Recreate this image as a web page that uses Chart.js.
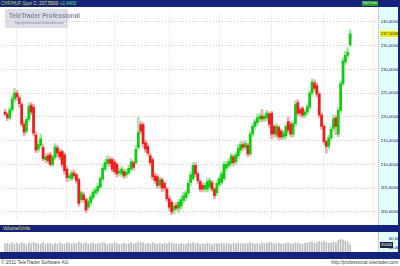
<!DOCTYPE html>
<html><head><meta charset="utf-8">
<script src="https://cdn.jsdelivr.net/npm/chart.js@4.4.0/dist/chart.umd.min.js"></script>
<style>
html,body{margin:0;padding:0;background:#fff;}
#wrap{position:relative;width:400px;height:266px;overflow:hidden;font-family:"Liberation Sans",Arial,sans-serif;}
.abs{position:absolute;white-space:nowrap;}
canvas{position:absolute;left:0;}
</style></head><body>
<div id="wrap">
  <div class="abs" style="left:0;top:0;width:400px;height:7px;background:#15247a;"></div>
  <div class="abs" style="left:1px;top:0;height:7px;line-height:7px;font-size:4.6px;">
    <span style="color:#b8e040">CHF/HUF Spot</span> <span style="color:#e8e850">C: 237,5000</span> <span style="color:#60e060">+2,4400</span>
  </div>
  <div class="abs" style="left:362px;top:1px;width:16px;height:5px;background:#2f9a34;color:#c8ffc8;font-size:3.2px;line-height:5px;text-align:center;">TeleTrader</div>
  <div class="abs" style="left:378px;top:7px;width:20px;height:218px;background:#e2fdfd;border-left:1px dotted #c8b070;box-sizing:border-box;"></div>
  <div class="abs" style="left:398px;top:7px;width:2px;height:245px;background:#15247a;"></div>
  <div class="abs" style="left:0;top:225px;width:400px;height:7px;background:#15247a;"></div>
  <div class="abs" style="left:3px;top:225px;height:7px;line-height:7px;font-size:4.6px;color:#e8e060;">Volume/Units</div>
  <div class="abs" style="left:378px;top:232px;width:20px;height:20px;background:#e2fdfd;border-left:1px dotted #c8b070;box-sizing:border-box;"></div>
  <div class="abs" style="left:0;top:252px;width:400px;height:7px;background:#15247a;"></div>
  <div class="abs" style="left:1px;top:259px;height:7px;line-height:7px;font-size:4.8px;color:#404040;">© 2011 TeleTrader Software AG</div>
  <div class="abs" style="right:2px;top:259px;height:7px;line-height:7px;font-size:4.6px;color:#404040;">http://professional.teletrader.com</div>
  <canvas id="main" width="400" height="218" style="top:7px"></canvas>
  <canvas id="vol" width="400" height="27" style="top:232px"></canvas>
  <div class="abs" style="left:5px;top:9px;width:63px;height:19px;background:rgba(190,195,208,0.55);border-radius:2px;z-index:5;">
    <div class="abs" style="left:4px;top:3px;font-size:6.3px;font-weight:bold;color:#8088a0;">TeleTrader Professional</div>
    <div class="abs" style="left:10px;top:12px;font-size:3.3px;color:#8088a0;">http://professional.teletrader.com/</div>
  </div>
</div>
<script>
const opens = [221.0,220.6,219.8,221.5,223.8,225.0,224.0,222.6,218.5,217.0,
219.5,222.5,222.0,216.2,213.2,214.0,213.6,211.0,211.8,212.0,
210.0,211.5,213.5,212.6,212.7,212.0,209.0,207.2,207.0,208.2,
207.8,206.8,202.6,203.6,202.6,201.0,202.0,203.0,204.0,204.4,
205.2,206.9,209.0,210.2,211.0,211.0,210.5,210.0,208.2,208.0,
208.5,207.8,208.2,209.0,210.4,210.4,213.6,218.4,218.4,214.6,
213.8,211.8,211.0,207.6,207.4,205.6,206.8,206.0,204.8,202.8,
202.0,200.4,201.4,200.8,201.2,202.4,203.0,204.0,206.2,207.0,
209.8,208.0,206.4,205.6,204.8,204.8,205.2,206.2,204.8,204.0,
205.8,206.2,207.0,209.2,209.8,210.2,211.6,210.6,211.8,213.0,
214.2,213.6,214.0,212.2,216.4,218.0,218.8,219.6,220.2,219.6,
219.8,220.6,220.8,218.0,216.2,217.8,217.0,215.8,216.0,219.0,
218.5,216.4,218.6,223.0,221.5,221.8,220.4,221.0,222.0,225.0,
227.2,226.6,224.8,220.4,218.0,214.8,213.8,215.6,217.6,219.8,
216.4,221.4,227.0,231.6,233.0,235.2];
const highs = [221.6,221.0,222.0,224.5,226.0,225.6,224.5,223.0,219.2,220.0,
223.0,223.0,222.6,216.8,215.0,216.4,214.2,212.2,212.4,212.6,
212.0,214.4,214.0,213.2,213.0,212.4,209.6,208.2,208.8,208.8,
208.2,207.2,204.6,204.2,203.0,202.8,203.8,204.8,205.2,206.0,
207.6,209.8,211.0,211.8,211.6,211.4,211.0,210.4,209.2,209.6,
209.0,209.0,209.8,211.2,210.8,214.0,220.0,219.0,218.8,215.2,
214.4,212.4,211.4,208.2,207.8,207.4,207.2,206.4,205.2,203.4,
202.4,201.8,202.0,202.6,203.4,204.2,204.6,206.6,208.4,210.4,
210.4,208.4,206.8,206.0,206.2,207.0,207.2,206.6,205.2,206.6,
207.6,208.6,210.6,210.6,211.2,212.4,212.0,212.6,214.2,214.8,
214.8,215.0,214.4,217.0,218.6,219.6,220.6,220.8,221.6,220.8,
221.4,221.0,221.2,218.4,218.6,218.2,217.4,217.2,218.6,220.0,
219.0,219.2,223.4,223.6,222.0,222.2,221.6,222.8,225.6,228.0,
227.8,227.2,225.2,220.8,218.4,215.2,216.2,218.0,220.4,220.4,
222.0,227.6,232.6,233.8,234.6,238.4];
const lows = [220.2,219.2,219.5,221.0,223.2,223.5,222.0,218.0,216.0,216.5,
219.0,220.5,216.0,212.5,212.6,213.6,210.8,210.4,210.2,209.6,
209.6,211.0,211.6,211.0,209.4,208.0,206.4,206.6,206.6,207.0,
206.0,201.2,202.0,202.0,199.8,200.4,201.4,202.6,203.4,203.8,
204.8,206.4,208.6,209.6,209.6,208.4,208.0,207.4,207.6,207.4,
207.0,207.2,207.8,208.6,208.8,210.0,213.2,216.4,213.6,212.6,
211.8,209.8,206.8,206.0,205.0,205.0,204.2,204.4,202.2,200.4,
199.4,199.6,200.2,199.8,200.6,201.8,202.4,203.4,205.6,206.6,
207.4,206.0,204.2,204.2,204.2,204.2,204.6,204.2,202.8,203.4,
205.2,205.8,206.6,208.6,209.2,209.6,209.8,210.0,211.2,212.4,
213.0,213.0,211.6,211.8,215.8,217.4,218.2,219.0,219.0,219.0,
219.2,217.8,215.4,215.8,215.6,215.2,215.2,215.2,215.4,216.6,
215.8,215.8,218.0,220.2,220.2,219.8,219.8,220.4,221.6,224.4,
225.4,224.2,219.8,217.4,214.2,212.4,213.2,215.0,217.0,216.2,
215.8,221.0,226.6,231.0,232.4,234.8];
const closes = [220.6,219.8,221.5,223.8,225.0,224.2,222.8,218.5,216.8,219.5,
222.2,221.0,216.6,213.0,214.2,215.4,211.2,211.6,210.8,210.0,
211.6,213.7,212.4,211.6,210.0,208.7,207.2,207.6,208.2,207.6,
206.6,201.8,204.0,202.6,200.4,202.2,203.2,204.2,204.6,205.4,
207.0,209.2,210.4,211.0,210.2,209.0,208.5,208.0,208.6,209.0,
207.6,208.4,209.2,210.6,209.4,213.2,216.8,217.0,214.4,213.2,
212.4,210.4,207.4,206.6,205.6,206.8,205.0,205.0,202.8,201.0,
200.0,201.2,200.8,202.0,202.6,203.4,204.0,206.0,207.8,209.8,
208.0,206.6,204.8,204.8,205.6,206.4,206.6,204.8,203.4,206.0,
207.0,208.0,210.0,210.0,210.6,211.8,210.4,212.0,213.4,214.2,
213.6,214.4,212.2,216.4,218.0,219.0,219.8,220.2,219.6,220.2,
220.8,218.5,216.4,216.5,218.0,215.8,215.8,216.6,218.0,217.2,
216.4,218.6,222.6,220.8,220.8,220.4,221.0,222.2,225.0,227.4,
226.0,224.8,220.4,218.0,214.8,213.8,215.6,217.4,219.6,218.0,
221.4,227.0,231.8,233.0,233.6,237.5];
const volumes = [38000,41000,36000,44000,39000,42000,37000,45000,40000,35000,
43000,38000,46000,41000,36000,39000,44000,37000,40000,42000,
35000,41000,38000,43000,39000,36000,45000,40000,37000,42000,
38000,47000,41000,39000,44000,36000,40000,43000,37000,41000,
39000,45000,42000,36000,40000,38000,43000,41000,35000,39000,
42000,37000,40000,44000,38000,41000,48000,43000,45000,39000,
41000,37000,44000,40000,38000,42000,36000,43000,39000,45000,
41000,38000,40000,36000,42000,39000,37000,43000,40000,44000,
38000,41000,36000,40000,37000,42000,39000,35000,41000,38000,
40000,43000,37000,41000,39000,36000,42000,38000,44000,40000,
37000,41000,39000,45000,42000,38000,40000,36000,43000,39000,
41000,46000,44000,38000,40000,42000,37000,39000,41000,43000,
40000,38000,45000,42000,39000,37000,41000,43000,46000,48000,
42000,44000,50000,47000,52000,45000,41000,43000,46000,44000,
55000,60000,58000,52000,47000,35000];
const monthLabels = ["10","'11","febr","márc","ápr","máj","jún","júl","aug"];
const monthTickDays = [-0.2,5,26,46,69,90,112,134,155];
const priceTicks = [200,205,210,215,220,225,230,235,240];
const volumeTicks = [20000,60000];

const X_MIN = -0.85, X_MAX = 156.7;
const FONT = "'Liberation Sans', Arial, sans-serif";
const AXIS_FONT = 4.1;
const fmtPrice = v => v.toFixed(4).replace('.', ',');

const days = closes.map((_, i) => i);
const isUp = days.map(i => closes[i] >= opens[i]);
const wickData = days.map(i => ({x: i, y: [lows[i], highs[i]]}));
const bodyData = days.map(i => ({x: i, y: [opens[i], closes[i]]}));
const volData = days.map(i => ({x: i, y: volumes[i]}));

const lastClose = closes[closes.length - 1];
const lastVol = volumes[volumes.length - 1];

const priceLabelPlugin = {
  id: 'priceLabel',
  afterDraw(chart) {
    const y = chart.scales.y.getPixelForValue(lastClose);
    const c = chart.ctx;
    c.save();
    c.fillStyle = '#f2f000';
    c.fillRect(380, Math.round(y) - 3, 18, 6);
    c.fillStyle = '#202040';
    c.font = AXIS_FONT + 'px ' + FONT;
    c.textBaseline = 'middle';
    c.fillText(fmtPrice(lastClose), 381, Math.round(y));
    c.restore();
  }
};
const volLabelPlugin = {
  id: 'volLabel',
  afterDraw(chart) {
    const y = chart.scales.y.getPixelForValue(lastVol);
    const c = chart.ctx;
    c.save();
    c.fillStyle = '#202040';
    c.fillRect(380, Math.round(y) - 3, 13, 6);
    c.fillStyle = '#ffffff';
    c.font = AXIS_FONT + 'px ' + FONT;
    c.textBaseline = 'middle';
    c.fillText(String(lastVol), 381, Math.round(y));
    c.restore();
  }
};

new Chart(document.getElementById('main'), {
  type: 'bar',
  data: {datasets: [
    {data: wickData, backgroundColor: days.map(i => isUp[i] ? '#a6e8a6' : '#f6aaaa'), barThickness: 2, grouped: false, order: 2},
    {data: bodyData, backgroundColor: days.map(i => isUp[i] ? '#10cc10' : '#ee1c1c'), barThickness: 2, grouped: false, order: 1, minBarLength: 1}
  ]},
  options: {
    responsive: false, animation: false, devicePixelRatio: 1,
    layout: {padding: {left: 3, right: 0, top: 0, bottom: 0}},
    plugins: {legend: {display: false}, tooltip: {enabled: false}},
    scales: {
      x: {type: 'linear', min: X_MIN, max: X_MAX, offset: false,
        afterBuildTicks: s => { s.ticks = monthTickDays.slice(1).map(v => ({value: v})); },
        afterFit: s => { s.height = 0; },
        ticks: {display: false},
        grid: {color: '#e8cfcf', drawTicks: false, offset: false},
        border: {display: false, dash: [1, 2]}},
      y: {position: 'right', min: 198.4, max: 242,
        afterBuildTicks: s => { s.ticks = priceTicks.map(v => ({value: v})); },
        afterFit: s => { s.width = 22; },
        ticks: {font: {size: AXIS_FONT, family: FONT}, color: '#1a2060', padding: 3, callback: v => fmtPrice(v)},
        grid: {color: '#efbcbc', drawTicks: false},
        border: {display: false, dash: [1, 2]}}
    }
  },
  plugins: [priceLabelPlugin]
});

new Chart(document.getElementById('vol'), {
  type: 'bar',
  data: {datasets: [
    {data: volData, backgroundColor: '#bcbcbc', barThickness: 1}
  ]},
  options: {
    responsive: false, animation: false, devicePixelRatio: 1,
    layout: {padding: {left: 3, right: 0, top: 0, bottom: 0}},
    plugins: {legend: {display: false}, tooltip: {enabled: false}},
    scales: {
      x: {type: 'linear', min: X_MIN, max: X_MAX, offset: false,
        afterBuildTicks: s => { s.ticks = monthTickDays.map(v => ({value: v})); },
        afterFit: s => { s.height = 7; },
        ticks: {font: {size: 4.6, family: FONT}, color: '#e0d488', padding: 1, maxRotation: 0, autoSkip: false,
          callback: (v, i) => monthLabels[i]},
        grid: {display: false},
        border: {display: false}},
      y: {position: 'right', min: 0, max: 68600,
        afterBuildTicks: s => { s.ticks = volumeTicks.map(v => ({value: v})); },
        afterFit: s => { s.width = 22; },
        ticks: {font: {size: AXIS_FONT, family: FONT}, color: '#1a2060', padding: 3},
        grid: {display: false},
        border: {display: false}}
    }
  },
  plugins: [volLabelPlugin]
});
</script>
</body></html>
